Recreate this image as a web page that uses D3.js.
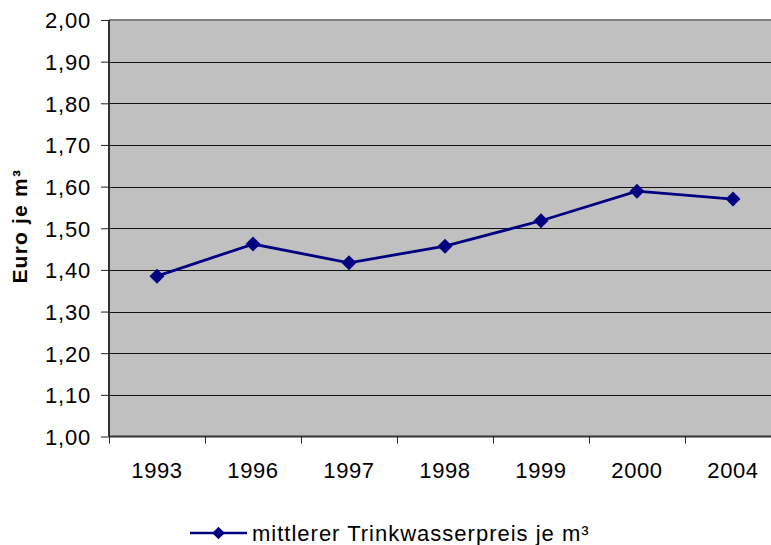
<!DOCTYPE html>
<html>
<head>
<meta charset="utf-8">
<script src="https://cdn.jsdelivr.net/npm/d3@7"></script>
<style>
  html, body { margin: 0; padding: 0; background: #fff; }
  svg { display: block; font-family: "Liberation Sans", Arial, sans-serif; }
</style>
</head>
<body>
<div id="chart"></div>
<script>
// Trinkwasserpreis — line chart
const years = ['1993', '1996', '1997', '1998', '1999', '2000', '2004'];
const prices = [1.385, 1.462, 1.417, 1.457, 1.518, 1.589, 1.570];
const yTicks = [1.0, 1.1, 1.2, 1.3, 1.4, 1.5, 1.6, 1.7, 1.8, 1.9, 2.0];
const seriesName = 'mittlerer Trinkwasserpreis je m³';
const yTitle = 'Euro je m³';

const W = 771, H = 545;
const m = { left: 109, top: 20, plotW: 672, plotH: 416.5 };
const navy = '#000080';

const svg = d3.select('#chart').append('svg')
  .attr('width', W).attr('height', H);

const x = d3.scaleBand().domain(years).range([m.left, m.left + m.plotW]).padding(0);
const y = d3.scaleLinear().domain([1, 2]).range([m.top + m.plotH, m.top]);

// plot area
svg.append('rect')
  .attr('x', m.left).attr('y', m.top)
  .attr('width', m.plotW).attr('height', m.plotH)
  .attr('fill', '#c0c0c0');

// gridlines
svg.append('g').selectAll('line').data(yTicks.slice(1, -1)).enter().append('line')
  .attr('x1', m.left).attr('x2', m.left + m.plotW)
  .attr('y1', d => Math.round(y(d)) + 0.5).attr('y2', d => Math.round(y(d)) + 0.5)
  .attr('stroke', '#111').attr('stroke-width', 1);

// top border
svg.append('line')
  .attr('x1', m.left).attr('x2', m.left + m.plotW)
  .attr('y1', m.top).attr('y2', m.top)
  .attr('stroke', '#808080').attr('stroke-width', 2);

// y axis
const fmt = d => d.toFixed(2).replace('.', ',');
const yAxis = svg.append('g')
  .attr('transform', `translate(${m.left},0)`)
  .call(d3.axisLeft(y).tickValues(yTicks).tickFormat(fmt).tickSize(8).tickPadding(10));
yAxis.select('.domain').attr('stroke', '#333').attr('stroke-width', 2)
  .attr('d', `M0,${m.top}V${m.top + m.plotH}`);
yAxis.selectAll('.tick line').attr('stroke', '#222');
yAxis.selectAll('.tick text').style('font-size', '22px').style('letter-spacing', '0.8px')
  .attr('dy', '0.36em').attr('fill', '#000');

// x axis
const xAxis = svg.append('g')
  .attr('transform', `translate(0,${m.top + m.plotH})`)
  .call(d3.axisBottom(x).tickSize(0).tickPadding(26));
xAxis.select('.domain').attr('stroke', '#333').attr('stroke-width', 2)
  .attr('d', `M${m.left},0H${m.left + m.plotW}`);
xAxis.selectAll('.tick text').style('font-size', '22px').style('letter-spacing', '0.6px')
  .attr('fill', '#000');
// tick marks between categories
xAxis.append('g').selectAll('line').data(years).enter().append('line')
  .attr('x1', d => x(d) + 0.5).attr('x2', d => x(d) + 0.5)
  .attr('y1', 0).attr('y2', 7)
  .attr('stroke', '#222');

// y title
svg.append('text')
  .attr('transform', `translate(27,${m.top + m.plotH / 2 - 2}) rotate(-90)`)
  .attr('text-anchor', 'middle')
  .style('font-size', '21px').style('font-weight', 'bold').style('letter-spacing', '1.2px')
  .text(yTitle);

// line
const cx = d => x(d) + x.bandwidth() / 2;
const line = d3.line().x((d, i) => cx(years[i])).y(d => y(d));
svg.append('path').datum(prices)
  .attr('d', line).attr('fill', 'none')
  .attr('stroke', navy).attr('stroke-width', 2.8);

const diamond = d3.symbol().type(d3.symbolSquare).size(112);
svg.append('g').selectAll('path').data(prices).enter().append('path')
  .attr('d', diamond)
  .attr('transform', (d, i) => `translate(${cx(years[i])},${y(d)}) rotate(45)`)
  .attr('fill', navy);

// legend
const lg = svg.append('g').attr('transform', 'translate(190,533)');
lg.append('line').attr('x1', 0).attr('x2', 57).attr('y1', 0).attr('y2', 0)
  .attr('stroke', navy).attr('stroke-width', 2.5);
lg.append('path').attr('d', d3.symbol().type(d3.symbolSquare).size(80))
  .attr('transform', 'translate(28.5,0) rotate(45)').attr('fill', navy);
lg.append('text').attr('x', 62).attr('y', 7.5)
  .style('font-size', '22px').style('letter-spacing', '1px').text(seriesName);
</script>
</body>
</html>
